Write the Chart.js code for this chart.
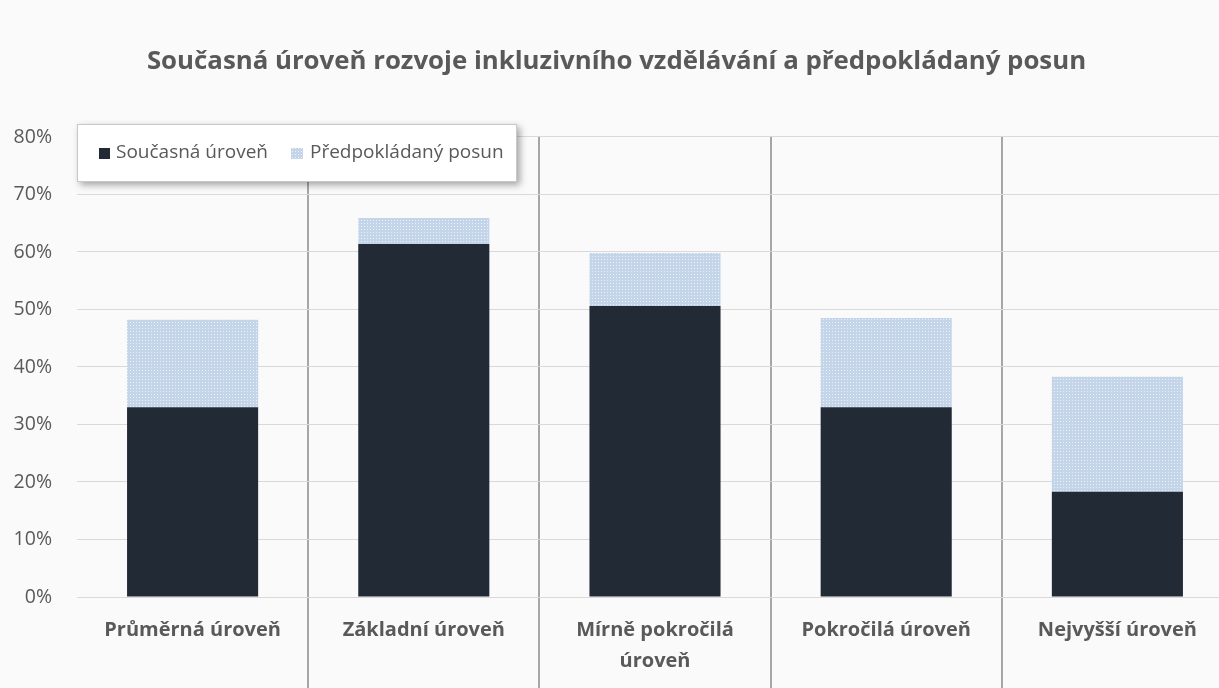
<!DOCTYPE html>
<html>
<head>
<meta charset="utf-8">
<script src="https://cdn.jsdelivr.net/npm/chart.js@4.4.1/dist/chart.umd.min.js"></script>
<style>
  html, body { margin: 0; padding: 0; background: #fafafa; overflow: hidden; width: 1219px; height: 688px; }
  canvas { display: block; }
</style>
</head>
<body>
<canvas id="c" width="1248" height="688"></canvas>
<script>
const titleText = 'Současná úroveň rozvoje inkluzivního vzdělávání a předpokládaný posun';
const categories = [
  'Průměrná úroveň',
  'Základní úroveň',
  ['Mírně pokročilá', 'úroveň'],
  'Pokročilá úroveň',
  'Nejvyšší úroveň'
];
const seriesNames = ['Současná úroveň', 'Předpokládaný posun'];
const currentLevel = [33.0, 61.4, 50.6, 33.0, 18.3];
const expectedShift = [15.2, 4.5, 9.2, 15.5, 20.0];
const yTicks = [0, 10, 20, 30, 40, 50, 60, 70, 80];

const FONT = '"Open Sans", "Noto Sans", sans-serif';
const TEXT = '#595959';
const DARK = '#222a35';

function makePattern() {
  const t = document.createElement('canvas');
  t.width = 3; t.height = 3;
  const g = t.getContext('2d');
  g.fillStyle = '#c4d5e9';
  g.fillRect(0, 0, 3, 3);
  g.fillStyle = '#eaf0f7';
  g.fillRect(1, 1, 1, 1);
  return g.createPattern(t, 'repeat');
}
const pattern = makePattern();

const bgPlugin = {
  id: 'bg',
  beforeDraw(chart) {
    const ctx = chart.ctx;
    ctx.save();
    ctx.fillStyle = '#fafafa';
    ctx.fillRect(0, 0, chart.width, chart.height);
    ctx.restore();
  }
};

const legendBox = {
  id: 'legendBox',
  afterDraw(chart) {
    const ctx = chart.ctx;
    const x = 77, y = 124, w = 440, h = 58;
    ctx.save();
    ctx.shadowColor = 'rgba(0,0,0,0.35)';
    ctx.shadowBlur = 7;
    ctx.shadowOffsetX = 3;
    ctx.shadowOffsetY = 3;
    ctx.fillStyle = '#ffffff';
    ctx.fillRect(x, y, w, h);
    ctx.restore();
    ctx.save();
    ctx.strokeStyle = '#c8c8c8';
    ctx.lineWidth = 1;
    ctx.strokeRect(x + 0.5, y + 0.5, w - 1, h - 1);
    const cy = 153;
    const ds = chart.data.datasets;
    ctx.font = '19px ' + FONT;
    ctx.textBaseline = 'middle';
    ctx.fillStyle = ds[0].backgroundColor;
    ctx.fillRect(99, cy - 5, 11, 11);
    ctx.fillStyle = TEXT;
    ctx.fillText(ds[0].label, 116, cy);
    ctx.fillStyle = ds[1].backgroundColor;
    ctx.fillRect(291, cy - 5, 12, 11);
    ctx.fillStyle = TEXT;
    ctx.fillText(ds[1].label, 310, cy);
    ctx.restore();
  }
};

new Chart(document.getElementById('c'), {
  type: 'bar',
  data: {
    labels: categories,
    datasets: [
      { label: seriesNames[0], data: currentLevel, backgroundColor: DARK, borderWidth: 0 },
      { label: seriesNames[1], data: expectedShift, backgroundColor: pattern, borderWidth: 0 }
    ]
  },
  options: {
    responsive: false,
    animation: false,
    devicePixelRatio: 1,
    layout: { padding: { left: 0, right: 15, top: 0, bottom: 0 } },
    plugins: {
      legend: { display: false },
      tooltip: { enabled: false },
      title: {
        display: true,
        text: titleText,
        color: TEXT,
        font: { family: FONT, size: 25.8, weight: 'bold', lineHeight: 1.2 },
        padding: { top: 46, bottom: 60 }
      }
    },
    scales: {
      x: {
        stacked: true,
        offset: true,
        afterFit(scale) { scale.height = 91; },
        grid: {
          offset: true,
          drawTicks: true,
          tickLength: 91,
          lineWidth: 2,
          color: (ctx) => (ctx.index === 0 || ctx.index === categories.length) ? 'rgba(0,0,0,0)' : '#a6a6a6'
        },
        border: { display: true, color: '#d9d9d9', width: 1 },
        ticks: {
          color: TEXT,
          padding: -74,
          maxRotation: 0,
          autoSkip: false,
          font: { family: FONT, size: 20, weight: 'bold', lineHeight: 1.58 }
        },
        categoryPercentage: 1.0,
        barPercentage: 0.567
      },
      y: {
        stacked: true,
        min: 0,
        max: 80,
        afterFit(scale) { scale.width = 77; },
        afterBuildTicks(scale) { scale.ticks = yTicks.map(v => ({ value: v })); },
        grid: { color: '#d9d9d9', lineWidth: 1, drawTicks: false },
        border: { display: false },
        ticks: {
          color: TEXT,
          padding: 25,
          font: { family: FONT, size: 19.5 },
          callback: (v) => v + '%'
        }
      }
    },
    datasets: { bar: { categoryPercentage: 1.0, barPercentage: 0.567 } }
  },
  plugins: [bgPlugin, legendBox]
});
</script>
</body>
</html>
